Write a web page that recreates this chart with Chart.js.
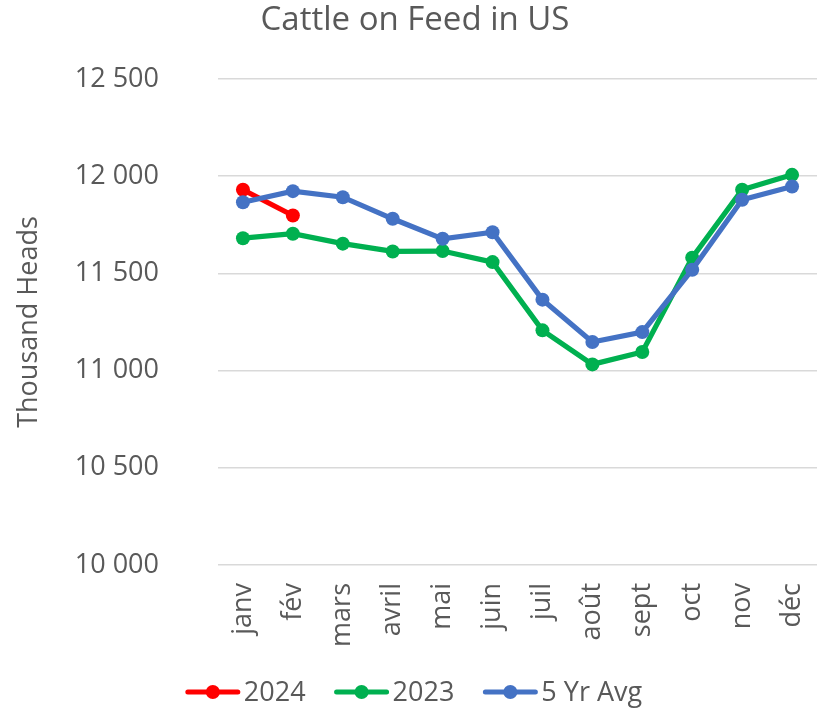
<!DOCTYPE html>
<html>
<head>
<meta charset="utf-8">
<script src="https://cdn.jsdelivr.net/npm/chart.js@4"></script>
<style>
html,body{margin:0;padding:0;background:#fff;}
#wrap{width:817px;height:708px;}
</style>
</head>
<body>
<div id="wrap"><canvas id="c" width="817" height="708"></canvas></div>
<script>
const months = ['janv','fév','mars','avril','mai','juin','juil','août','sept','oct','nov','déc'];
const values2024 = [11930, 11798];
const values2023 = [11681, 11704, 11653, 11613, 11615, 11558, 11207, 11032, 11096, 11581, 11930, 12007];
const values5yr = [11866, 11923, 11892, 11781, 11678, 11712, 11365, 11147, 11198, 11519, 11879, 11947];
const seriesNames = ['2024', '2023', '5 Yr Avg'];
const yTicks = [10000, 10500, 11000, 11500, 12000, 12500];

const FONT = '"Open Sans"';
const TXT = '#595959';
const colors = ['#FF0000', '#00B050', '#4472C4'];

function fmt(v){ return String(v).replace(/\B(?=(\d{3})+(?!\d))/g, ' '); }

const legendPlugin = {
  id: 'customLegend',
  afterDraw(chart){
    const ctx = chart.ctx;
    ctx.save();
    ctx.font = '27px ' + FONT;
    const lineW = 54, gapT = 4, gapItem = 29;
    const items = [0,1,2].map(i => ({i, w: lineW + gapT + ctx.measureText(seriesNames[i]).width}));
    const total = items.reduce((s,it)=>s+it.w,0) + gapItem*(items.length-1);
    let x = 414 - total/2;
    const y = 692;
    items.forEach(it => {
      const c = colors[it.i];
      ctx.strokeStyle = c; ctx.lineWidth = 5; ctx.lineCap = 'round';
      ctx.beginPath(); ctx.moveTo(x+2, y); ctx.lineTo(x+lineW-2, y); ctx.stroke();
      ctx.fillStyle = c;
      ctx.beginPath(); ctx.arc(x+lineW/2, y, 7, 0, Math.PI*2); ctx.fill();
      ctx.fillStyle = TXT; ctx.textBaseline = 'middle'; ctx.textAlign = 'left';
      ctx.fillText(seriesNames[it.i], x+lineW+gapT, y+1);
      x += it.w + gapItem;
    });
    ctx.restore();
  }
};

const mk = (label, data, color, order) => ({
  label, data, borderColor: color, backgroundColor: color,
  pointBackgroundColor: color, pointBorderColor: color,
  borderWidth: 5.2, pointRadius: 7, pointHoverRadius: 7, pointBorderWidth: 0,
  tension: 0, order, fill: false, clip: false
});

new Chart(document.getElementById('c'), {
  type: 'line',
  data: {
    labels: months,
    datasets: [
      mk(seriesNames[0], values2024, colors[0], 2),
      mk(seriesNames[1], values2023, colors[1], 1),
      mk(seriesNames[2], values5yr, colors[2], 0)
    ]
  },
  options: {
    responsive: false,
    animation: false,
    layout: { autoPadding: false, padding: { left: 13, right: 0, top: 0, bottom: 40 } },
    plugins: {
      legend: { display: false },
      tooltip: { enabled: false },
      title: {
        display: true, text: 'Cattle on Feed in US', color: TXT,
        font: { family: FONT, size: 33, weight: 'normal' },
        padding: { top: 1, bottom: 38.4 }
      }
    },
    scales: {
      x: {
        offset: true,
        grid: { display: false, drawTicks: false },
        border: { display: false },
        ticks: {
          color: TXT, font: { family: FONT, size: 27 },
          minRotation: 90, maxRotation: 90, padding: 18, autoSkip: false
        },
        afterFit(s){ s.height = 103; s.paddingLeft = 0; s.paddingRight = 0; }
      },
      y: {
        min: yTicks[0], max: yTicks[yTicks.length-1],
        grid: { color: '#d9d9d9', lineWidth: 1.5, drawTicks: false },
        border: { display: false },
        afterBuildTicks(s){ s.ticks = yTicks.map(v => ({value: v})); },
        ticks: { color: TXT, font: { family: FONT, size: 27 }, padding: 59, callback: v => fmt(v) },
        title: { display: true, text: 'Thousand Heads', color: TXT, font: { family: FONT, size: 27 }, padding: { top: 0, bottom: 0 } },
        afterFit(s){ s.width = 205; }
      }
    }
  },
  plugins: [legendPlugin]
});
</script>
</body>
</html>
